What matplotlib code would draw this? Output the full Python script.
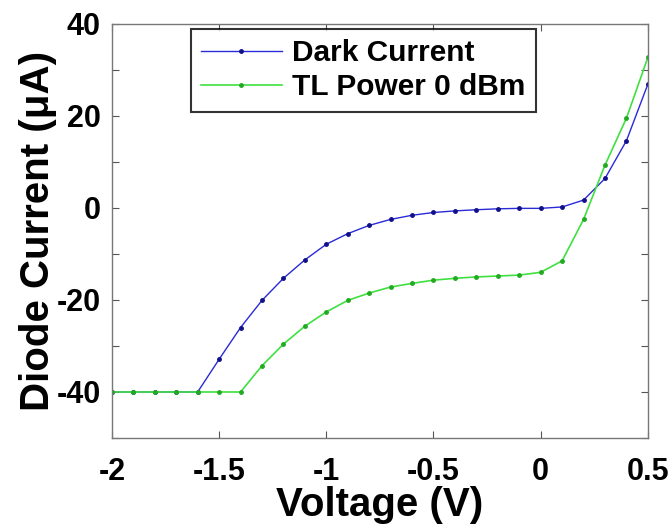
import matplotlib
matplotlib.use("Agg")
import matplotlib.pyplot as plt
from matplotlib.ticker import MultipleLocator

plt.rcParams["font.family"] = ["Liberation Sans", "DejaVu Sans"]
plt.rcParams["font.weight"] = "bold"
plt.rcParams["axes.unicode_minus"] = False

voltage = [-2.0, -1.9, -1.8, -1.7, -1.6, -1.5, -1.4, -1.3, -1.2, -1.1, -1.0,
           -0.9, -0.8, -0.7, -0.6, -0.5, -0.4, -0.3, -0.2, -0.1, 0.0,
           0.1, 0.2, 0.3, 0.4, 0.5]
dark_current = [-40, -40, -40, -40, -40, -32.9, -26.0, -20.1, -15.3, -11.3, -7.9,
                -5.6, -3.8, -2.5, -1.6, -1.0, -0.65, -0.4, -0.2, -0.1, -0.1,
                0.2, 1.7, 6.4, 14.6, 26.9]
tl_current = [-40, -40, -40, -40, -40, -40, -40, -34.3, -29.6, -25.7, -22.6,
              -20.1, -18.5, -17.2, -16.4, -15.7, -15.3, -15.0, -14.8, -14.6, -14.0,
              -11.5, -2.5, 9.3, 19.5, 32.7]

x_ticks = [-2, -1.5, -1, -0.5, 0, 0.5]
x_labels = ["-2", "-1.5", "-1", "-0.5", "0", "0.5"]
y_ticks = [-40, -20, 0, 20, 40]

fig = plt.figure(figsize=(6.7, 5.29), dpi=100)
ax = fig.add_axes([0.167, 0.172, 0.8, 0.783])

ax.plot(voltage, dark_current, color="#2a2ad8", lw=1.0, marker="o", ms=2.5,
        mfc="#10108a", mec="#10108a", label="Dark Current")
ax.plot(voltage, tl_current, color="#40e040", lw=1.2, marker="o", ms=2.5,
        mfc="#22aa22", mec="#22aa22", label="TL Power 0 dBm")

ax.set_xlim(-2, 0.5)
ax.set_ylim(-50, 40)
ax.set_xticks(x_ticks)
ax.set_xticklabels(x_labels)
ax.set_yticks(y_ticks)
ax.yaxis.set_minor_locator(MultipleLocator(10))
ax.tick_params(which="both", direction="in", top=True, right=True,
               labelsize=22, length=5, width=0.8, color="#555555")
ax.tick_params(axis="x", pad=14)
ax.tick_params(axis="y", pad=8)
for lbl in ax.get_xticklabels() + ax.get_yticklabels():
    lbl.set_fontweight("bold")
for sp in ax.spines.values():
    sp.set_color("#777777")
    sp.set_linewidth(1.0)

ax.set_xlabel("Voltage (V)", fontsize=29, fontweight="bold", labelpad=-1)
ax.set_ylabel("Diode Current (μA)", fontsize=29, fontweight="bold", labelpad=0)

leg = ax.legend(loc="upper left", bbox_to_anchor=(0.147, 0.988), fontsize=21.5,
                frameon=True, fancybox=False, handlelength=2.7,
                borderpad=0.35, labelspacing=0.2, handletextpad=0.35,
                borderaxespad=0)
leg.get_frame().set_edgecolor("black")
leg.get_frame().set_linewidth(1.5)
for t in leg.get_texts():
    t.set_fontweight("bold")

fig.savefig("out.png", dpi=100)
